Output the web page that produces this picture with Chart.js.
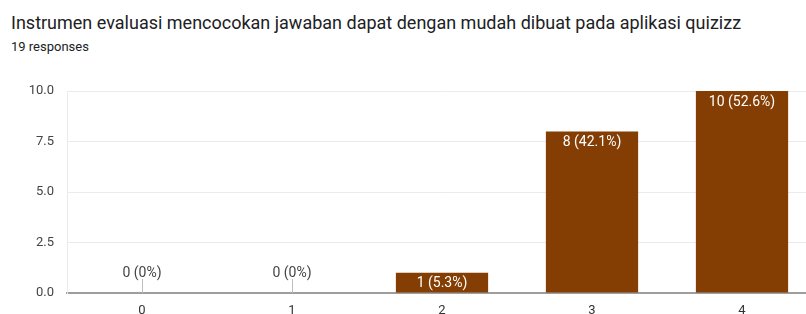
<!DOCTYPE html>
<html>
<head>
<meta charset="utf-8">
<script src="https://cdn.jsdelivr.net/npm/chart.js@4/dist/chart.umd.min.js"></script>
<style>
  html, body { margin: 0; padding: 0; background: #fff; overflow: hidden; }
  body { width: 806px; height: 314px; position: relative; font-family: Roboto, "Noto Sans", sans-serif; }
  #title { position: absolute; left: 11px; top: 12px; font-size: 18px; line-height: 22px; color: #202124; white-space: nowrap; }
  #sub { position: absolute; left: 11px; top: 39px; font-size: 13px; line-height: 16px; color: #202124; }
  #wrap { position: absolute; left: 0; top: 0; width: 818px; height: 314px; }
</style>
</head>
<body>
<div id="title">Instrumen evaluasi mencocokan jawaban dapat dengan mudah dibuat pada aplikasi quizizz</div>
<div id="sub">19 responses</div>
<div id="wrap"><canvas id="chart"></canvas></div>
<script>
const categories = ["0", "1", "2", "3", "4"];
const counts = [0, 0, 1, 8, 10];
const barLabels = ["0 (0%)", "0 (0%)", "1 (5.3%)", "8 (42.1%)", "10 (52.6%)"];
const yTicks = [0, 2.5, 5, 7.5, 10];

// labels on top of the bars, plus the little stems for empty bars
const barLabelPlugin = {
  id: "barLabels",
  afterDatasetsDraw(chart) {
    const ctx = chart.ctx;
    const meta = chart.getDatasetMeta(0);
    const y = chart.scales.y;
    ctx.save();
    ctx.font = "14px Roboto, sans-serif";
    ctx.textAlign = "center";
    ctx.textBaseline = "middle";
    meta.data.forEach((bar, i) => {
      if (counts[i] > 0) {
        ctx.fillStyle = "#ffffff";
        ctx.fillText(barLabels[i], bar.x, bar.y + 11);
      } else {
        const base = y.getPixelForValue(0);
        ctx.strokeStyle = "#bdbdbd";
        ctx.lineWidth = 1;
        ctx.beginPath();
        ctx.moveTo(bar.x + 0.5, base);
        ctx.lineTo(bar.x + 0.5, base - 14);
        ctx.stroke();
        ctx.fillStyle = "#444444";
        ctx.fillText(barLabels[i], bar.x, base - 20);
      }
    });
    ctx.restore();
  },
};

new Chart(document.getElementById("chart"), {
  type: "bar",
  data: {
    labels: categories,
    datasets: [
      {
        data: counts,
        backgroundColor: "#843d03",
        barPercentage: 1,
        categoryPercentage: 0.615,
      },
    ],
  },
  options: {
    responsive: true,
    maintainAspectRatio: false,
    animation: false,
    layout: { padding: { top: 91, right: 1, left: 0, bottom: 0 } },
    plugins: {
      legend: { display: false },
      tooltip: { enabled: false },
    },
    scales: {
      x: {
        grid: { display: false, drawTicks: false },
        border: { color: "#9e9e9e", width: 2 },
        ticks: { color: "#333", font: { family: "Roboto", size: 13 }, padding: 10 },
        afterFit: (scale) => { scale.height = 21; },
      },
      y: {
        min: 0,
        max: 10,
        afterBuildTicks: (scale) => { scale.ticks = yTicks.map((v) => ({ value: v })); },
        grid: { color: "#ebebeb", drawTicks: false },
        border: { color: "#ebebeb" },
        ticks: {
          color: "#444",
          font: { family: "Roboto", size: 13 },
          padding: 13,
          callback: (v) => Number(v).toFixed(1),
        },
        afterFit: (scale) => { scale.width = 67; },
      },
    },
  },
  plugins: [barLabelPlugin],
});
</script>
</body>
</html>
